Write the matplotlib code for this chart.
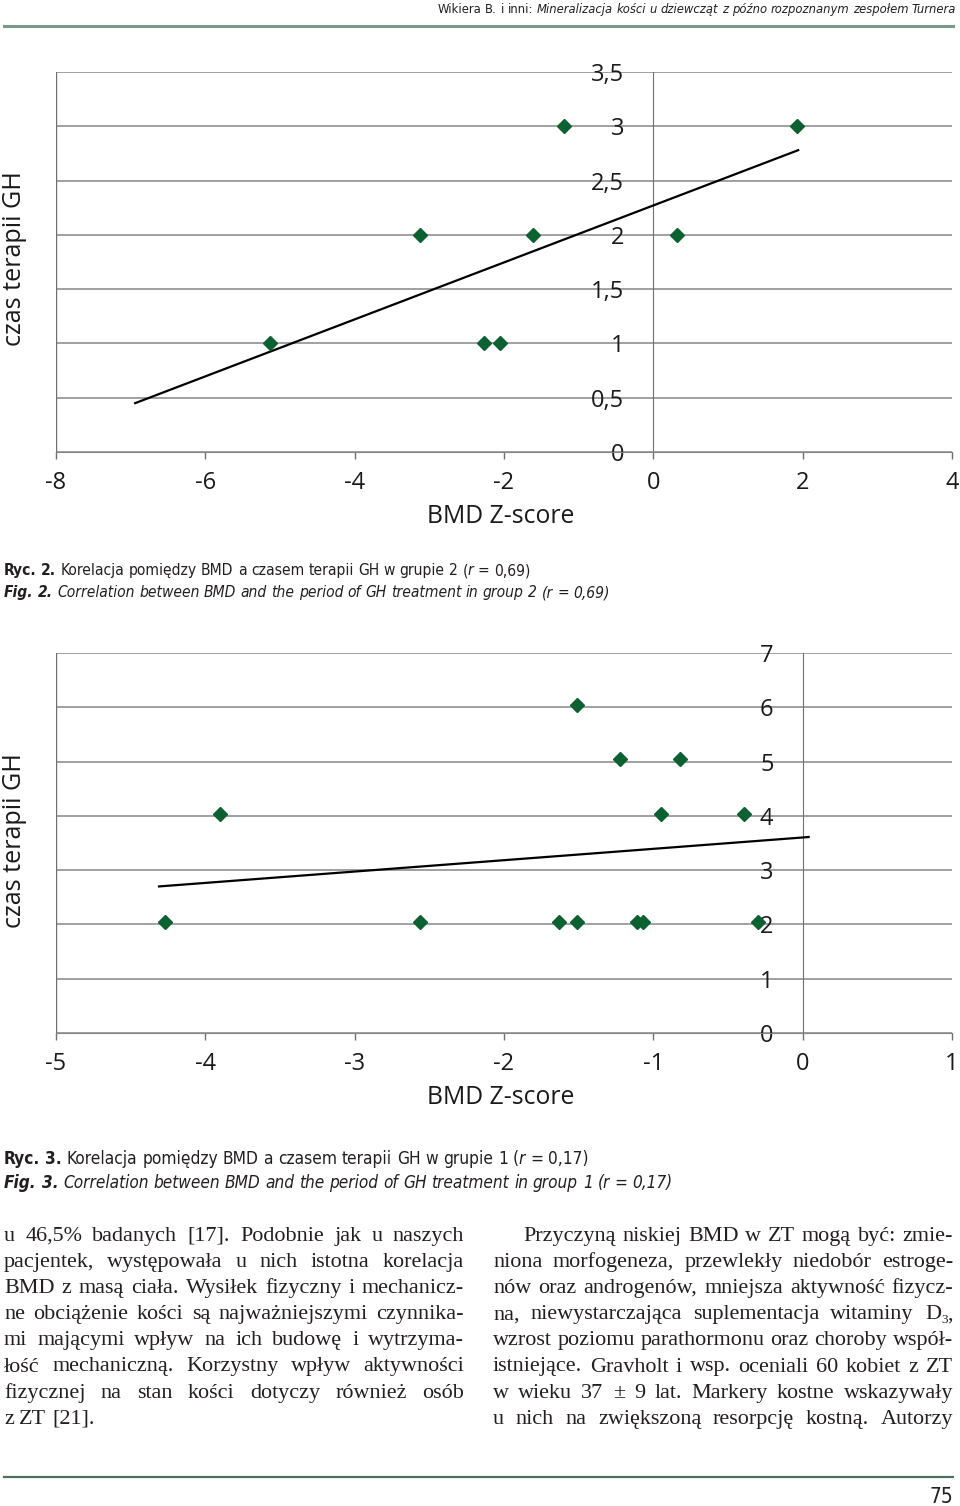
import matplotlib
matplotlib.use("Agg")
import matplotlib.pyplot as plt
from matplotlib import font_manager as fm

W, H = 960, 1506

# Ryc. 2 - grupa 2
g2_bmd = [-5.14, -3.12, -2.27, -2.06, -1.61, -1.20, 0.32, 1.93]
g2_czas = [1, 2, 1, 1, 2, 3, 2, 3]
g2_trend_x = [-6.94, 1.94]
g2_trend_y = [0.45, 2.78]
g2_xticks = [-8, -6, -4, -2, 0, 2, 4]
g2_yticks = [0, 0.5, 1, 1.5, 2, 2.5, 3, 3.5]
g2_ylabels = ["0", "0,5", "1", "1,5", "2", "2,5", "3", "3,5"]

# Ryc. 3 - grupa 1
g1_bmd = [-4.27, -3.90, -2.56, -1.63, -1.51, -1.51, -1.22, -1.11, -1.07, -0.95, -0.82, -0.39, -0.30]
g1_czas = [2.04, 4.04, 2.04, 2.04, 2.04, 6.04, 5.04, 2.04, 2.04, 4.04, 5.04, 4.04, 2.04]
g1_trend_x = [-4.31, 0.04]
g1_trend_y = [2.70, 3.61]
g1_xticks = [-5, -4, -3, -2, -1, 0, 1]
g1_yticks = [0, 1, 2, 3, 4, 5, 6, 7]
g1_ylabels = ["0", "1", "2", "3", "4", "5", "6", "7"]

# pick a narrow sans for captions/header if one is installed
entries = fm.fontManager.ttflist
names = {f.name for f in entries}
narrow = dict(family="Liberation Sans")
if "Liberation Sans Narrow" in names:
    narrow = dict(family="Liberation Sans Narrow")
elif any(f.name == "DejaVu Sans" and str(f.stretch) in ("condensed", "semi-condensed") for f in entries):
    narrow = dict(family="DejaVu Sans", stretch="condensed")

chart_font = "Open Sans"
serif = "Liberation Serif"
ink = "#231f20"
grid_c = "#868686"
green = "#0b6130"

fig = plt.figure(figsize=(W / 100, H / 100), dpi=100)
r = fig.canvas.get_renderer()


def px(x, y):
    return x / W, 1 - y / H


def panel(top, xs, ys, tx, ty, xticks, yticks, ylabels, tsize):
    ax = fig.add_axes([56 / W, 1 - (top + 380) / H, 896 / W, 380 / H])
    ax.set_xlim(xticks[0], xticks[-1])
    ax.set_ylim(yticks[0], yticks[-1])
    ax.set_xticks(xticks, [str(t) for t in xticks])
    ax.set_yticks(yticks, ylabels)
    ax.grid(axis="y", color=grid_c, lw=1.1, zorder=0)
    ax.set_axisbelow(True)
    for s in ["top", "right"]:
        ax.spines[s].set_visible(False)
    ax.spines["left"].set_position(("data", 0))
    ax.spines["left"].set_color("#707070")
    ax.spines["bottom"].set_color(grid_c)
    ax.axvline(xticks[0], color="#707070", lw=1)
    ax.tick_params(axis="y", length=0, pad=21, labelsize=tsize, labelcolor="#1a1a1a")
    ax.tick_params(axis="x", length=5, width=1, color="#707070", pad=9,
                   labelsize=tsize, labelcolor="#1a1a1a")
    for lab in ax.get_xticklabels() + ax.get_yticklabels():
        lab.set_family(chart_font)
    ax.plot(tx, ty, color="black", lw=1.6, zorder=3)
    ax.plot(xs, ys, ls="none", marker="D", ms=7.2, color=green, zorder=4, clip_on=False)
    ax.patch.set_alpha(0)
    return ax


panel(72, g2_bmd, g2_czas, g2_trend_x, g2_trend_y, g2_xticks, g2_yticks, g2_ylabels, 17)
panel(653, g1_bmd, g1_czas, g1_trend_x, g1_trend_y, g1_xticks, g1_yticks, g1_ylabels, 17)

for yc, xl in [(259, 517), (841, 1098)]:
    fig.text(*px(15, yc), "czas terapii GH", rotation=90, ha="center", va="center",
             family=chart_font, fontsize=18.1, color="#1a1a1a")
    fig.text(*px(501, xl), "BMD Z-score", ha="center", va="center",
             family=chart_font, fontsize=17.8, color="#1a1a1a")

styles = {"n": {}, "b": {"weight": "bold"}, "i": {"style": "italic"},
          "bi": {"weight": "bold", "style": "italic"}}


def words_of(runs):
    words = [[]]
    for text, fp in runs:
        for i, part in enumerate(text.split(" ")):
            if i:
                words.append([])
            if part:
                words[-1].append((part, fp))
    return [w for w in words if w]


def measure(s, fp):
    fp = dict(fp)
    fp.pop("dy", None)
    t = fig.text(0, 0, s, **fp)
    w = t.get_window_extent(r).width
    t.remove()
    return w


def word_w(word):
    return sum(measure(s, fp) for s, fp in word)


def space_w(fp):
    return measure("x x", fp) - measure("xx", fp)


def draw_words(x, y, words, gap):
    for w in words:
        for s, fp in w:
            fp = dict(fp)
            dy = fp.pop("dy", 0)
            t = fig.text(*px(x, y + dy), s, ha="left", va="baseline", **fp)
            x += t.get_window_extent(r).width
        x += gap


def spec_runs(spec, size):
    return [(t, dict(fontsize=size, color=ink, **narrow, **styles[k])) for t, k in spec]


def fitted(x, y, spec, target):
    runs = spec_runs(spec, 10)
    words = words_of(runs)
    sp = space_w(runs[-1][1])
    w10 = sum(word_w(w) for w in words) + sp * (len(words) - 1)
    size = 10 * target / w10
    runs = spec_runs(spec, size)
    draw_words(x, y, words_of(runs), space_w(runs[-1][1]))


# header / footer
fitted(438, 13, [("Wikiera B. i inni:", "n"),
                 (" Mineralizacja kości u dziewcząt z późno rozpoznanym zespołem Turnera", "i")], 515)
fig.add_artist(plt.Line2D([4 / W, 953 / W], [1 - 26 / H] * 2, color="#7b9888", lw=2.2))
fig.add_artist(plt.Line2D([4 / W, 953 / W], [1 - 1477 / H] * 2, color="#4d6f5e", lw=1.6))
fig.text(*px(953, 1503), "75", ha="right", va="baseline", fontsize=15, color=ink, **narrow)

# captions
fitted(4, 575, [("Ryc. 2.", "b"), (" Korelacja pomiędzy BMD a czasem terapii GH w grupie 2 (", "n"),
                ("r", "i"), (" = 0,69)", "n")], 527)
fitted(4, 597, [("Fig. 2.", "bi"),
                (" Correlation between BMD and the period of GH treatment in group 2 (r = 0,69)", "i")], 603)
fitted(4, 1164, [("Ryc. 3.", "b"), (" Korelacja pomiędzy BMD a czasem terapii GH w grupie 1 (", "n"),
                 ("r", "i"), (" = 0,17)", "n")], 586)
fitted(4, 1188, [("Fig. 3.", "bi"),
                 (" Correlation between BMD and the period of GH treatment in group 1 (r = 0,17)", "i")], 670)

# body text, two justified columns
body = dict(family=serif, fontsize=15.9, color=ink)
sub = dict(family=serif, fontsize=9.5, color=ink, dy=4)

left_lines = [
    "u 46,5% badanych [17]. Podobnie jak u naszych",
    "pacjentek, występowała u nich istotna korelacja",
    "BMD z masą ciała. Wysiłek fizyczny i mechanicz-",
    "ne obciążenie kości są najważniejszymi czynnika-",
    "mi mającymi wpływ na ich budowę i wytrzyma-",
    "łość mechaniczną. Korzystny wpływ aktywności",
    "fizycznej na stan kości dotyczy również osób",
    "z ZT [21].",
]
right_lines = [
    [("Przyczyną niskiej BMD w ZT mogą być: zmie-", body)],
    [("niona morfogeneza, przewlekły niedobór estroge-", body)],
    [("nów oraz androgenów, mniejsza aktywność fizycz-", body)],
    [("na, niewystarczająca suplementacja witaminy D", body), ("3", sub), (",", body)],
    [("wzrost poziomu parathormonu oraz choroby współ-", body)],
    [("istniejące. Gravholt i wsp. oceniali 60 kobiet z ZT", body)],
    [("w wieku 37 ± 9 lat. Markery kostne wskazywały", body)],
    [("u nich na zwiększoną resorpcję kostną. Autorzy", body)],
]


def column(x0, x1, lines, last_natural):
    for i, runs in enumerate(lines):
        y = 1241 + i * 26.1
        words = words_of(runs)
        start = x0 + (30 if (x0 > 400 and i == 0) else 0)
        if last_natural and i == len(lines) - 1:
            draw_words(start, y, words, space_w(body))
        else:
            total = sum(word_w(w) for w in words)
            gap = max((x1 - start - total) / (len(words) - 1), 2.5)
            draw_words(start, y, words, gap)


column(4, 464, [[(s, body)] for s in left_lines], True)
column(493, 953, right_lines, False)

fig.savefig("out.png", dpi=100)
